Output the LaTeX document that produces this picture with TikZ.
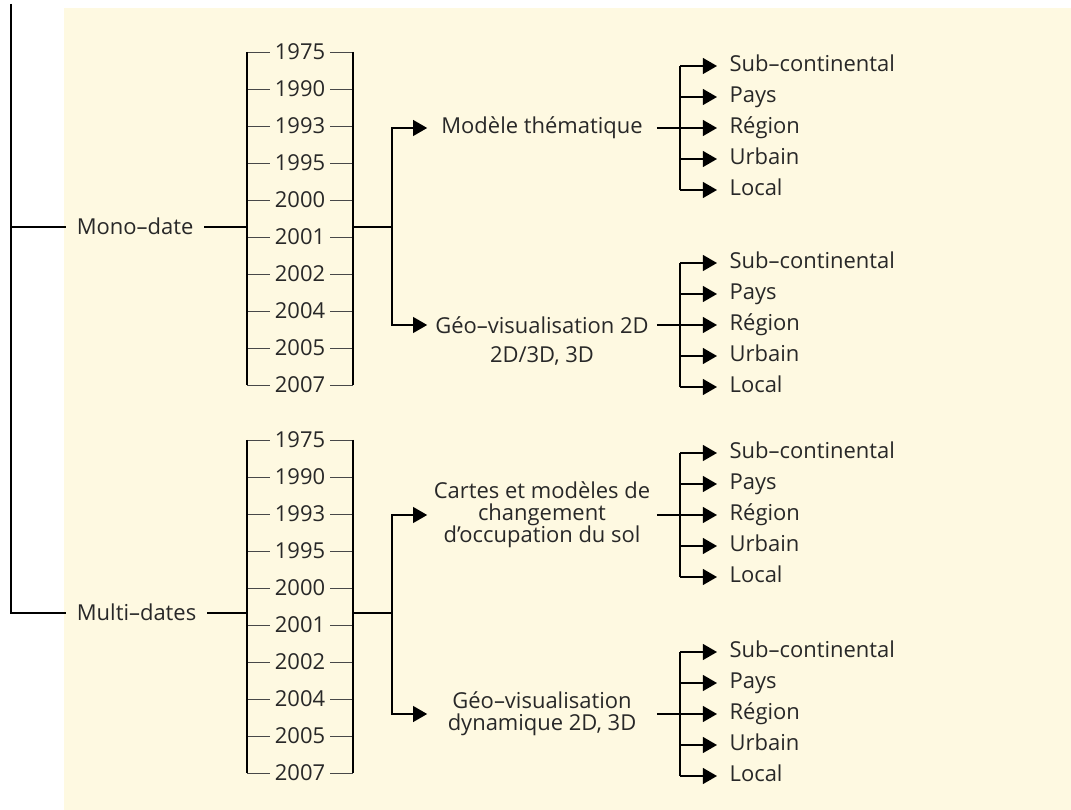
\documentclass[tikz,border=0pt]{standalone}
\usepackage{fontspec}
\setmainfont{Open Sans}
\usetikzlibrary{arrows.meta,calc}
\definecolor{paper}{RGB}{254,249,225}
\definecolor{ink}{RGB}{40,40,40}

\begin{document}
\begin{tikzpicture}[
    x=0.02cm,y=-0.02cm,
    every node/.style={font=\fontsize{12.5}{12.6}\selectfont,text=ink},
    line/.style={line width=0.9pt},
    tick/.style={line width=0.5pt,ink!85},
    arr/.style={line width=0.9pt,-{Triangle[length=8pt,width=9pt]}},
    lbl/.style={anchor=west,inner xsep=6pt,inner ysep=1pt,text height=8.8pt,text depth=0pt},
    year/.style={inner xsep=2.6pt,inner ysep=1pt,text height=8.8pt,text depth=0pt},
    mid/.style={minimum width=4.58cm,inner sep=0pt,align=center},
    target/.style={anchor=west,inner xsep=7pt,inner ysep=1pt,text height=9pt,text depth=3pt},
]
\useasboundingbox (0,0) rectangle (1071,810);
\fill[paper] (64,8) rectangle (1071,810);

% date brackets
\foreach \g/\yb in {a/52,b/440}{
  \coordinate (\g-bl) at (247,\yb);
  \coordinate (\g-br) at (353,\yb);
  \foreach \yr [count=\i from 0] in {1975,1990,1993,1995,2000,2001,2002,2004,2005,2007}{
    \node[year] (\g-\yr) at (300,\yb+37*\i) {\yr};
    \draw[tick] (\g-\yr.west -| \g-bl) -- (\g-\yr.west);
    \draw[tick] (\g-\yr.east) -- (\g-\yr.east -| \g-br);
  }
  \draw[line] (\g-bl) -- (\g-2007.center -| \g-bl);
  \draw[line] (\g-br) -- (\g-2007.center -| \g-br);
}

% left side
\coordinate (root) at (11,4);
\node[lbl] (mono)  at (66,227) {Mono–date};
\node[lbl] (multi) at (66,613) {Multi–dates};
\draw[line] (root) |- (multi.west);
\draw[line] (root |- mono.west) -- (mono.west);
\draw[line] (mono.east) -- (mono.east -| a-bl);
\draw[line] (multi.east) -- (multi.east -| b-bl);

% products
\node[mid] (mod)      at (542,128) {Modèle thématique};
\node[mid] (geo2d)    at (542,325) {Géo–visualisation 2D};
\node[mid] (geo2dsub) at (542,356) {2D/3D, 3D};
\node[mid] (carte)    at (542,515) {Cartes et modèles de\\changement\\d’occupation du sol};
\node[mid] (geodyn)   at (542,714) {Géo–visualisation\\dynamique 2D, 3D};

\coordinate (a-j) at (392,227);
\coordinate (b-j) at (392,613);
\draw[line] (mono.east -| a-br) -- (a-j);
\draw[line] (multi.east -| b-br) -- (b-j);
\draw[arr] (a-j) |- (mod.west);
\draw[arr] (a-j) |- (geo2d.west);
\draw[arr] (b-j) |- (carte.west);
\draw[arr] (b-j) |- (geodyn.west);

% scales
\foreach \m/\yc in {mod/128,geo2d/325,carte/515,geodyn/714}{
  \coordinate (\m-x) at (680,\yc);
  \foreach \t [count=\k] in {Sub–continental,Pays,Région,Urbain,Local}
    \node[target] (\m-\k) at (717,\yc+31*\k-93) {\t};
  \draw[line] (\m-1.west -| \m-x) -- (\m-5.west -| \m-x);
  \foreach \k in {1,2,4,5}
    \draw[arr] (\m-\k.west -| \m-x) -- (\m-\k.west);
  \draw[arr] (\m.east) -- (\m-3.west);
}
\end{tikzpicture}
\end{document}
